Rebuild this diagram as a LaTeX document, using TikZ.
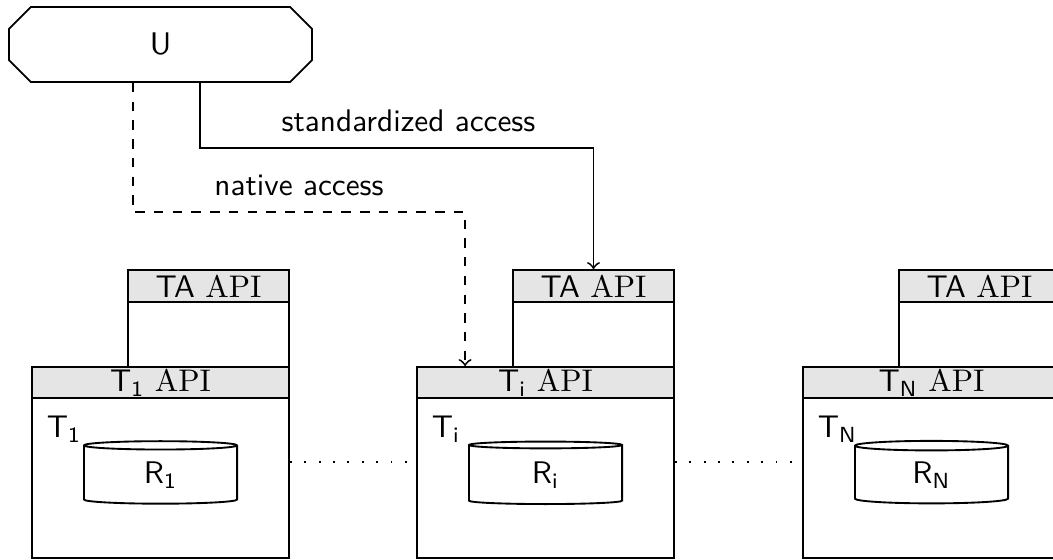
\documentclass[tikz,border=0pt]{standalone}
\usetikzlibrary{shapes.geometric,shapes.misc}
\tikzset{
  hdr/.style={draw, fill=gray!20, minimum width=82.24pt, minimum height=9.92pt, inner sep=0pt},
  tbody/.style={draw, minimum width=82.24pt, minimum height=51.2pt},
  tahdr/.style={draw, fill=gray!20, minimum width=51.52pt, minimum height=10.24pt, inner sep=0pt},
  tabody/.style={draw, minimum width=51.52pt, minimum height=20.8pt},
  db/.style={draw, cylinder, shape border rotate=90, aspect=0.25, minimum width=49pt, minimum height=20pt, inner sep=0pt, font=\sffamily},
  user/.style={draw, chamfered rectangle, chamfered rectangle xsep=5.5pt, chamfered rectangle ysep=5.5pt, minimum width=97pt, minimum height=24pt, inner sep=0pt, font=\sffamily},
  lbl/.style={above=1.5pt, font=\sffamily},
  conn/.style={->}
}
\begin{document}
\begin{tikzpicture}[x=0.32pt, y=-0.32pt, semithick]
\useasboundingbox (0,0) rectangle (1053,560);
% user
\node[user] (u) at (160.5,44.5) {U};
% tenants
\foreach \xl/\id/\sub in {32/1/1, 417/i/i, 803/n/N} {
  \node[tabody] (tabody-\id) at (\xl+176.5,334.5) {};
  \node[tahdr] (tahdr-\id) at (\xl+176.5,286) {{\sffamily TA} API};
  \node[tbody] (body-\id) at (\xl+128.5,478) {};
  \node[hdr] (hdr-\id) at (\xl+128.5,382.5) {{\sffamily T\textsubscript{\sub}} API};
  \node[anchor=west, inner sep=0pt, font=\sffamily] (tl-\id) at (\xl+14,429) {T\textsubscript{\sub}};
  \node[db] (db-\id) at (\xl+128.5,475) {R\textsubscript{\sub}};
}
% dots between tenants
\draw[loosely dotted] ([yshift=5.12pt]body-1.east) -- ([yshift=5.12pt]body-i.west);
\draw[loosely dotted] ([yshift=5.12pt]body-i.east) -- ([yshift=5.12pt]body-n.west);
% access paths
\coordinate (sa) at (200,148);
\coordinate (na) at (133,212);
\coordinate (nend) at ([xshift=15.68pt]hdr-i.north west);
\draw[conn] (u.south -| sa) -- (sa) -- node[lbl, pos=0.53] {standardized access} (sa -| tahdr-i.north) -- (tahdr-i.north);
\draw[conn, dashed] (u.south -| na) -- (na) -- node[lbl] {native access} (na -| nend) -- (nend);
\end{tikzpicture}
\end{document}
